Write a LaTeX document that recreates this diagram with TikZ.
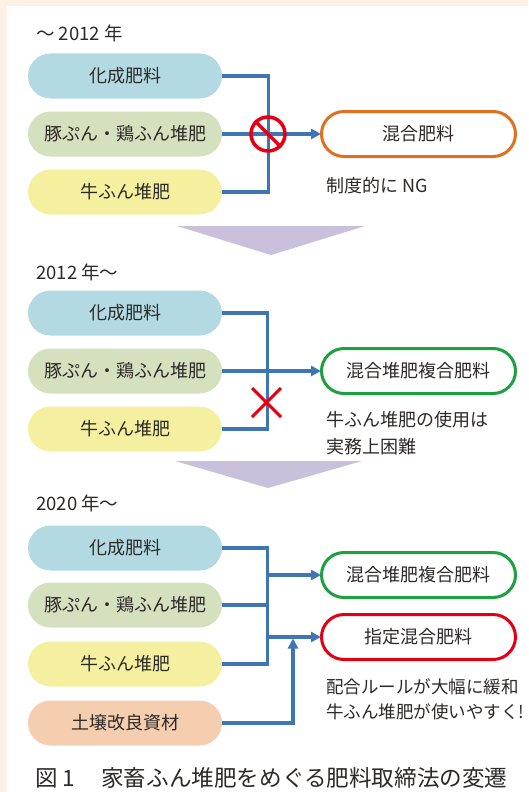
\documentclass[tikz,border=0pt]{standalone}
\usepackage{fontspec}
\setmainfont{Noto Sans CJK JP}
\usetikzlibrary{arrows.meta}
\definecolor{cream}{RGB}{252,241,228}
\definecolor{txt}{RGB}{45,42,40}
\definecolor{cblue}{RGB}{179,218,226}
\definecolor{cgreen}{RGB}{213,224,190}
\definecolor{cyellow}{RGB}{245,240,160}
\definecolor{cpeach}{RGB}{245,206,176}
\definecolor{conn}{RGB}{62,118,180}
\definecolor{oorange}{RGB}{224,112,32}
\definecolor{ogreen}{RGB}{30,160,64}
\definecolor{ored}{RGB}{228,0,18}
\definecolor{tri}{RGB}{201,192,219}
\tikzset{
  srcbox/.style={rounded corners=22.5pt, minimum width=194pt, minimum height=45pt, inner sep=0pt, text=txt, font=\fontsize{18}{20}\selectfont},
  dstbox/.style={draw, line width=3pt, fill=white, rounded corners=22.5pt, minimum width=194pt, minimum height=45pt, inner sep=0pt, text=txt, font=\fontsize{18}{20}\selectfont},
  lbl/.style={anchor=west, inner sep=0pt, text=txt, font=\fontsize{18.5}{20}\selectfont},
  note/.style={anchor=west, inner sep=0pt, text=txt, align=left},
  wire/.style={draw=conn, line width=3.2pt},
  arr/.style={wire, -{Triangle[length=10pt,width=10pt]}, shorten >=-1pt},
  banner/.style={fill=tri},
}
\begin{document}
\begin{tikzpicture}[x=1pt,y=-1pt]
\fill[cream] (0,0) rectangle (528,792);
\fill[white] (7,6) rectangle (528,792);
\useasboundingbox (0,0) rectangle (528,792);

% ---------- section 1 ----------
\node[lbl] (y1) at (36,33) {～ 2012 年};
\node[srcbox, fill=cblue] (a1) at (125,76) {化成肥料};
\node[srcbox, fill=cgreen] (a2) at (125,134) {豚ぷん・鶏ふん堆肥};
\node[srcbox, fill=cyellow] (a3) at (125,192) {牛ふん堆肥};
\node[dstbox, draw=oorange] (o1) at (418.5,134) {混合肥料};
\draw[wire] (a1.east) -- ++(46,0) |- (a3.east);
\draw[arr] (a2.east) -- (o1.west);
\node[circle, draw=ored, line width=3.5pt, minimum size=34pt, inner sep=0pt] (ng1) at (268,134) {};
\draw[ored, line width=3.5pt] (ng1.north west) -- (ng1.south east);
\node[note, font=\fontsize{18}{20}\selectfont] (n1) at (326,186) {制度的に NG};
\fill[banner] (177,226) -- (365,226) -- (271,255) -- cycle;

% ---------- section 2 ----------
\node[lbl] (y2) at (36,272) {2012 年～};
\node[srcbox, fill=cblue] (b1) at (125,313) {化成肥料};
\node[srcbox, fill=cgreen] (b2) at (125,371) {豚ぷん・鶏ふん堆肥};
\node[srcbox, fill=cyellow] (b3) at (125,429) {牛ふん堆肥};
\node[dstbox, draw=ogreen] (o2) at (418.5,371) {混合堆肥複合肥料};
\draw[wire] (b1.east) -- ++(45,0) |- (b3.east);
\draw[arr] (b2.east) -- (o2.west);
\draw[ored, line width=3pt] (252,388) -- (281,417) (252,417) -- (281,388);
\node[note, font=\fontsize{18}{27}\selectfont] (n2) at (326,433.5) {牛ふん堆肥の使用は\\実務上困難};
\fill[banner] (175,461) -- (362,461) -- (268,488) -- cycle;

% ---------- section 3 ----------
\node[lbl] (y3) at (36,503) {2020 年～};
\node[srcbox, fill=cblue] (c1) at (125,548) {化成肥料};
\node[srcbox, fill=cgreen] (c2) at (125,605) {豚ぷん・鶏ふん堆肥};
\node[srcbox, fill=cyellow] (c3) at (125,664) {牛ふん堆肥};
\node[srcbox, fill=cpeach] (c4) at (125,723) {土壌改良資材};
\node[dstbox, draw=ogreen] (o3) at (418.5,575) {混合堆肥複合肥料};
\node[dstbox, draw=ored] (o4) at (418.5,637) {指定混合肥料};
\draw[wire] (c1.east) -- ++(45,0) |- (c3.east);
\draw[wire] (c2.east) -- ++(46.6,0);
\coordinate (j1) at (267,575);
\coordinate (j2) at (267,637);
\draw[arr] (j1) -- (o3.west);
\draw[arr] (j2) -- (o4.west);
\coordinate (up) at (293,639.5);
\draw[arr] (c4.east) -| (up);
\node[note, font=\fontsize{17.5}{25}\selectfont] (n3) at (326,699.5) {配合ルールが大幅に緩和\\牛ふん堆肥が使いやすく!};

% ---------- caption ----------
\node[lbl, font=\fontsize{22.5}{24}\selectfont] (cap1) at (35,778) {図 1};
\node[lbl, font=\fontsize{22.6}{24}\selectfont] (cap2) at (101,778) {家畜ふん堆肥をめぐる肥料取締法の変遷};
\end{tikzpicture}
\end{document}
